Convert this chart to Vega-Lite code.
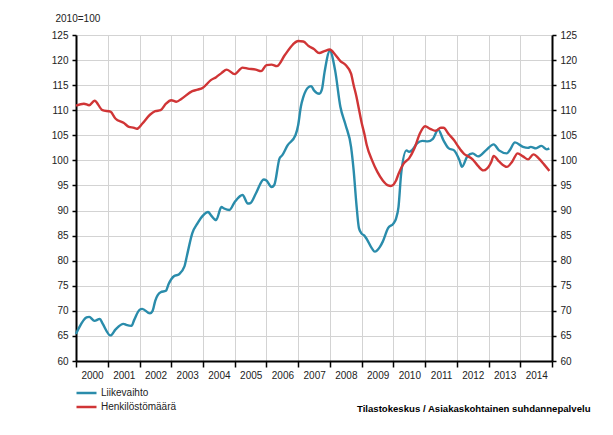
{
  "$schema": "https://vega.github.io/schema/vega-lite/v6.json",
  "width": 476,
  "height": 326,
  "autosize": "none",
  "padding": {"left": 76, "top": 35, "right": 61, "bottom": 74},
  "background": "white",
  "config": {
    "font": "Liberation Sans",
    "view": {"stroke": null},
    "axis": {"labelFontSize": 10, "labelColor": "#222222", "domainColor": "#000000", "domainWidth": 2, "tickColor": "#000000", "tickWidth": 1.5, "gridColor": "#d3d3d3", "gridWidth": 1}
  },
  "data": {
    "values": [
      {"date": "2000-01-01", "series": "Liikevaihto", "value": 65.4},
      {"date": "2000-02-01", "series": "Liikevaihto", "value": 66.5},
      {"date": "2000-05-01", "series": "Liikevaihto", "value": 68.7},
      {"date": "2000-06-01", "series": "Liikevaihto", "value": 68.8},
      {"date": "2000-08-01", "series": "Liikevaihto", "value": 68.0},
      {"date": "2000-10-01", "series": "Liikevaihto", "value": 68.4},
      {"date": "2000-11-01", "series": "Liikevaihto", "value": 67.5},
      {"date": "2001-02-01", "series": "Liikevaihto", "value": 65.1},
      {"date": "2001-04-01", "series": "Liikevaihto", "value": 66.3},
      {"date": "2001-07-01", "series": "Liikevaihto", "value": 67.4},
      {"date": "2001-08-01", "series": "Liikevaihto", "value": 67.2},
      {"date": "2001-10-01", "series": "Liikevaihto", "value": 67.0},
      {"date": "2001-11-01", "series": "Liikevaihto", "value": 68.2},
      {"date": "2002-01-01", "series": "Liikevaihto", "value": 70.2},
      {"date": "2002-02-01", "series": "Liikevaihto", "value": 70.4},
      {"date": "2002-05-01", "series": "Liikevaihto", "value": 69.5},
      {"date": "2002-06-01", "series": "Liikevaihto", "value": 70.0},
      {"date": "2002-07-01", "series": "Liikevaihto", "value": 72.0},
      {"date": "2002-09-01", "series": "Liikevaihto", "value": 73.7},
      {"date": "2002-11-01", "series": "Liikevaihto", "value": 74.0},
      {"date": "2002-12-01", "series": "Liikevaihto", "value": 75.3},
      {"date": "2003-02-01", "series": "Liikevaihto", "value": 76.9},
      {"date": "2003-04-01", "series": "Liikevaihto", "value": 77.3},
      {"date": "2003-06-01", "series": "Liikevaihto", "value": 78.8},
      {"date": "2003-07-01", "series": "Liikevaihto", "value": 81.0},
      {"date": "2003-09-01", "series": "Liikevaihto", "value": 85.5},
      {"date": "2003-11-01", "series": "Liikevaihto", "value": 87.5},
      {"date": "2004-01-01", "series": "Liikevaihto", "value": 89.0},
      {"date": "2004-03-01", "series": "Liikevaihto", "value": 89.7},
      {"date": "2004-04-01", "series": "Liikevaihto", "value": 89.1},
      {"date": "2004-06-01", "series": "Liikevaihto", "value": 88.1},
      {"date": "2004-08-01", "series": "Liikevaihto", "value": 90.7},
      {"date": "2004-09-01", "series": "Liikevaihto", "value": 90.4},
      {"date": "2004-11-01", "series": "Liikevaihto", "value": 90.1},
      {"date": "2005-01-01", "series": "Liikevaihto", "value": 91.7},
      {"date": "2005-04-01", "series": "Liikevaihto", "value": 93.1},
      {"date": "2005-06-01", "series": "Liikevaihto", "value": 91.4},
      {"date": "2005-07-01", "series": "Liikevaihto", "value": 91.5},
      {"date": "2005-09-01", "series": "Liikevaihto", "value": 93.4},
      {"date": "2005-12-01", "series": "Liikevaihto", "value": 96.2},
      {"date": "2006-01-01", "series": "Liikevaihto", "value": 96.0},
      {"date": "2006-03-01", "series": "Liikevaihto", "value": 94.7},
      {"date": "2006-04-01", "series": "Liikevaihto", "value": 95.1},
      {"date": "2006-06-01", "series": "Liikevaihto", "value": 100.4},
      {"date": "2006-07-01", "series": "Liikevaihto", "value": 101.0},
      {"date": "2006-09-01", "series": "Liikevaihto", "value": 103.0},
      {"date": "2006-12-01", "series": "Liikevaihto", "value": 105.0},
      {"date": "2007-01-01", "series": "Liikevaihto", "value": 107.0},
      {"date": "2007-02-01", "series": "Liikevaihto", "value": 110.7},
      {"date": "2007-03-01", "series": "Liikevaihto", "value": 112.6},
      {"date": "2007-05-01", "series": "Liikevaihto", "value": 114.6},
      {"date": "2007-06-01", "series": "Liikevaihto", "value": 114.8},
      {"date": "2007-07-01", "series": "Liikevaihto", "value": 114.0},
      {"date": "2007-09-01", "series": "Liikevaihto", "value": 113.3},
      {"date": "2007-10-01", "series": "Liikevaihto", "value": 114.1},
      {"date": "2007-11-01", "series": "Liikevaihto", "value": 117.6},
      {"date": "2008-01-01", "series": "Liikevaihto", "value": 121.8},
      {"date": "2008-03-01", "series": "Liikevaihto", "value": 118.0},
      {"date": "2008-05-01", "series": "Liikevaihto", "value": 110.7},
      {"date": "2008-07-01", "series": "Liikevaihto", "value": 107.0},
      {"date": "2008-09-01", "series": "Liikevaihto", "value": 102.7},
      {"date": "2008-10-01", "series": "Liikevaihto", "value": 98.0},
      {"date": "2008-11-01", "series": "Liikevaihto", "value": 91.4},
      {"date": "2008-12-01", "series": "Liikevaihto", "value": 86.5},
      {"date": "2009-01-01", "series": "Liikevaihto", "value": 85.4},
      {"date": "2009-02-01", "series": "Liikevaihto", "value": 85.0},
      {"date": "2009-03-01", "series": "Liikevaihto", "value": 84.3},
      {"date": "2009-05-01", "series": "Liikevaihto", "value": 82.4},
      {"date": "2009-06-01", "series": "Liikevaihto", "value": 81.8},
      {"date": "2009-08-01", "series": "Liikevaihto", "value": 82.8},
      {"date": "2009-09-01", "series": "Liikevaihto", "value": 83.8},
      {"date": "2009-11-01", "series": "Liikevaihto", "value": 86.5},
      {"date": "2010-01-01", "series": "Liikevaihto", "value": 87.4},
      {"date": "2010-02-01", "series": "Liikevaihto", "value": 88.4},
      {"date": "2010-03-01", "series": "Liikevaihto", "value": 90.7},
      {"date": "2010-04-01", "series": "Liikevaihto", "value": 97.4},
      {"date": "2010-06-01", "series": "Liikevaihto", "value": 102.0},
      {"date": "2010-07-01", "series": "Liikevaihto", "value": 101.7},
      {"date": "2010-08-01", "series": "Liikevaihto", "value": 102.0},
      {"date": "2010-10-01", "series": "Liikevaihto", "value": 103.4},
      {"date": "2010-12-01", "series": "Liikevaihto", "value": 103.9},
      {"date": "2011-02-01", "series": "Liikevaihto", "value": 103.8},
      {"date": "2011-04-01", "series": "Liikevaihto", "value": 104.3},
      {"date": "2011-06-01", "series": "Liikevaihto", "value": 106.1},
      {"date": "2011-08-01", "series": "Liikevaihto", "value": 104.0},
      {"date": "2011-10-01", "series": "Liikevaihto", "value": 102.4},
      {"date": "2011-12-01", "series": "Liikevaihto", "value": 102.0},
      {"date": "2012-02-01", "series": "Liikevaihto", "value": 100.0},
      {"date": "2012-03-01", "series": "Liikevaihto", "value": 98.7},
      {"date": "2012-05-01", "series": "Liikevaihto", "value": 100.8},
      {"date": "2012-07-01", "series": "Liikevaihto", "value": 101.4},
      {"date": "2012-09-01", "series": "Liikevaihto", "value": 100.8},
      {"date": "2012-12-01", "series": "Liikevaihto", "value": 102.0},
      {"date": "2013-03-01", "series": "Liikevaihto", "value": 103.2},
      {"date": "2013-05-01", "series": "Liikevaihto", "value": 102.0},
      {"date": "2013-08-01", "series": "Liikevaihto", "value": 101.4},
      {"date": "2013-09-01", "series": "Liikevaihto", "value": 102.0},
      {"date": "2013-11-01", "series": "Liikevaihto", "value": 103.6},
      {"date": "2014-02-01", "series": "Liikevaihto", "value": 102.7},
      {"date": "2014-04-01", "series": "Liikevaihto", "value": 102.5},
      {"date": "2014-05-01", "series": "Liikevaihto", "value": 102.7},
      {"date": "2014-07-01", "series": "Liikevaihto", "value": 102.4},
      {"date": "2014-09-01", "series": "Liikevaihto", "value": 102.9},
      {"date": "2014-11-01", "series": "Liikevaihto", "value": 102.2},
      {"date": "2014-12-01", "series": "Liikevaihto", "value": 102.4},
      {"date": "2000-01-01", "series": "Henkilöstömäärä", "value": 110.9},
      {"date": "2000-04-01", "series": "Henkilöstömäärä", "value": 111.3},
      {"date": "2000-06-01", "series": "Henkilöstömäärä", "value": 111.0},
      {"date": "2000-08-01", "series": "Henkilöstömäärä", "value": 111.9},
      {"date": "2000-11-01", "series": "Henkilöstömäärä", "value": 110.0},
      {"date": "2001-02-01", "series": "Henkilöstömäärä", "value": 109.7},
      {"date": "2001-04-01", "series": "Henkilöstömäärä", "value": 108.3},
      {"date": "2001-07-01", "series": "Henkilöstömäärä", "value": 107.5},
      {"date": "2001-09-01", "series": "Henkilöstömäärä", "value": 106.7},
      {"date": "2001-11-01", "series": "Henkilöstömäärä", "value": 106.5},
      {"date": "2001-12-01", "series": "Henkilöstömäärä", "value": 106.3},
      {"date": "2002-02-01", "series": "Henkilöstömäärä", "value": 107.3},
      {"date": "2002-05-01", "series": "Henkilöstömäärä", "value": 109.1},
      {"date": "2002-07-01", "series": "Henkilöstömäärä", "value": 109.8},
      {"date": "2002-09-01", "series": "Henkilöstömäärä", "value": 110.0},
      {"date": "2002-11-01", "series": "Henkilöstömäärä", "value": 111.3},
      {"date": "2003-01-01", "series": "Henkilöstömäärä", "value": 112.0},
      {"date": "2003-03-01", "series": "Henkilöstömäärä", "value": 111.7},
      {"date": "2003-05-01", "series": "Henkilöstömäärä", "value": 112.3},
      {"date": "2003-09-01", "series": "Henkilöstömäärä", "value": 113.8},
      {"date": "2003-11-01", "series": "Henkilöstömäärä", "value": 114.1},
      {"date": "2004-01-01", "series": "Henkilöstömäärä", "value": 114.5},
      {"date": "2004-04-01", "series": "Henkilöstömäärä", "value": 116.0},
      {"date": "2004-06-01", "series": "Henkilöstömäärä", "value": 116.6},
      {"date": "2004-08-01", "series": "Henkilöstömäärä", "value": 117.4},
      {"date": "2004-10-01", "series": "Henkilöstömäärä", "value": 118.1},
      {"date": "2005-01-01", "series": "Henkilöstömäärä", "value": 117.2},
      {"date": "2005-04-01", "series": "Henkilöstömäärä", "value": 118.5},
      {"date": "2005-06-01", "series": "Henkilöstömäärä", "value": 118.3},
      {"date": "2005-09-01", "series": "Henkilöstömäärä", "value": 118.1},
      {"date": "2005-11-01", "series": "Henkilöstömäärä", "value": 117.8},
      {"date": "2006-01-01", "series": "Henkilöstömäärä", "value": 119.0},
      {"date": "2006-03-01", "series": "Henkilöstömäärä", "value": 119.1},
      {"date": "2006-05-01", "series": "Henkilöstömäärä", "value": 118.8},
      {"date": "2006-08-01", "series": "Henkilöstömäärä", "value": 121.0},
      {"date": "2006-11-01", "series": "Henkilöstömäärä", "value": 123.1},
      {"date": "2007-01-01", "series": "Henkilöstömäärä", "value": 123.8},
      {"date": "2007-03-01", "series": "Henkilöstömäärä", "value": 123.7},
      {"date": "2007-05-01", "series": "Henkilöstömäärä", "value": 122.8},
      {"date": "2007-07-01", "series": "Henkilöstömäärä", "value": 122.2},
      {"date": "2007-09-01", "series": "Henkilöstömäärä", "value": 121.4},
      {"date": "2007-11-01", "series": "Henkilöstömäärä", "value": 121.8},
      {"date": "2008-01-01", "series": "Henkilöstömäärä", "value": 122.1},
      {"date": "2008-03-01", "series": "Henkilöstömäärä", "value": 121.1},
      {"date": "2008-05-01", "series": "Henkilöstömäärä", "value": 119.8},
      {"date": "2008-07-01", "series": "Henkilöstömäärä", "value": 119.0},
      {"date": "2008-09-01", "series": "Henkilöstömäärä", "value": 117.3},
      {"date": "2008-10-01", "series": "Henkilöstömäärä", "value": 115.0},
      {"date": "2008-11-01", "series": "Henkilöstömäärä", "value": 112.8},
      {"date": "2008-12-01", "series": "Henkilöstömäärä", "value": 110.2},
      {"date": "2009-01-01", "series": "Henkilöstömäärä", "value": 107.5},
      {"date": "2009-02-01", "series": "Henkilöstömäärä", "value": 105.3},
      {"date": "2009-03-01", "series": "Henkilöstömäärä", "value": 103.0},
      {"date": "2009-05-01", "series": "Henkilöstömäärä", "value": 100.0},
      {"date": "2009-07-01", "series": "Henkilöstömäärä", "value": 97.7},
      {"date": "2009-09-01", "series": "Henkilöstömäärä", "value": 96.0},
      {"date": "2009-11-01", "series": "Henkilöstömäärä", "value": 95.0},
      {"date": "2009-12-01", "series": "Henkilöstömäärä", "value": 94.9},
      {"date": "2010-02-01", "series": "Henkilöstömäärä", "value": 96.0},
      {"date": "2010-03-01", "series": "Henkilöstömäärä", "value": 97.3},
      {"date": "2010-05-01", "series": "Henkilöstömäärä", "value": 99.4},
      {"date": "2010-07-01", "series": "Henkilöstömäärä", "value": 100.4},
      {"date": "2010-09-01", "series": "Henkilöstömäärä", "value": 102.4},
      {"date": "2010-11-01", "series": "Henkilöstömäärä", "value": 105.3},
      {"date": "2011-01-01", "series": "Henkilöstömäärä", "value": 106.8},
      {"date": "2011-03-01", "series": "Henkilöstömäärä", "value": 106.3},
      {"date": "2011-05-01", "series": "Henkilöstömäärä", "value": 105.9},
      {"date": "2011-07-01", "series": "Henkilöstömäärä", "value": 106.5},
      {"date": "2011-08-01", "series": "Henkilöstömäärä", "value": 106.5},
      {"date": "2011-10-01", "series": "Henkilöstömäärä", "value": 105.2},
      {"date": "2011-12-01", "series": "Henkilöstömäärä", "value": 104.0},
      {"date": "2012-02-01", "series": "Henkilöstömäärä", "value": 102.4},
      {"date": "2012-04-01", "series": "Henkilöstömäärä", "value": 101.2},
      {"date": "2012-05-01", "series": "Henkilöstömäärä", "value": 100.9},
      {"date": "2012-07-01", "series": "Henkilöstömäärä", "value": 100.2},
      {"date": "2012-09-01", "series": "Henkilöstömäärä", "value": 98.9},
      {"date": "2012-11-01", "series": "Henkilöstömäärä", "value": 98.0},
      {"date": "2013-02-01", "series": "Henkilöstömäärä", "value": 99.7},
      {"date": "2013-03-01", "series": "Henkilöstömäärä", "value": 100.9},
      {"date": "2013-05-01", "series": "Henkilöstömäärä", "value": 99.8},
      {"date": "2013-08-01", "series": "Henkilöstömäärä", "value": 98.7},
      {"date": "2013-10-01", "series": "Henkilöstömäärä", "value": 99.8},
      {"date": "2013-12-01", "series": "Henkilöstömäärä", "value": 101.4},
      {"date": "2014-02-01", "series": "Henkilöstömäärä", "value": 100.8},
      {"date": "2014-04-01", "series": "Henkilöstömäärä", "value": 100.2},
      {"date": "2014-06-01", "series": "Henkilöstömäärä", "value": 101.2},
      {"date": "2014-08-01", "series": "Henkilöstömäärä", "value": 100.4},
      {"date": "2014-10-01", "series": "Henkilöstömäärä", "value": 99.2},
      {"date": "2014-12-01", "series": "Henkilöstömäärä", "value": 97.9}
    ]
  },
  "encoding": {
    "x": {
      "field": "date",
      "type": "temporal",
      "scale": {
        "type": "utc",
        "domain": [
          {"year": 2000, "month": 1, "date": 1, "utc": true},
          {"year": 2015, "month": 1, "date": 1, "utc": true}
        ]
      },
      "axis": {
        "orient": "bottom",
        "values": [
          {"year": 2000, "month": 1, "date": 1, "utc": true},
          {"year": 2001, "month": 1, "date": 1, "utc": true},
          {"year": 2002, "month": 1, "date": 1, "utc": true},
          {"year": 2003, "month": 1, "date": 1, "utc": true},
          {"year": 2004, "month": 1, "date": 1, "utc": true},
          {"year": 2005, "month": 1, "date": 1, "utc": true},
          {"year": 2006, "month": 1, "date": 1, "utc": true},
          {"year": 2007, "month": 1, "date": 1, "utc": true},
          {"year": 2008, "month": 1, "date": 1, "utc": true},
          {"year": 2009, "month": 1, "date": 1, "utc": true},
          {"year": 2010, "month": 1, "date": 1, "utc": true},
          {"year": 2011, "month": 1, "date": 1, "utc": true},
          {"year": 2012, "month": 1, "date": 1, "utc": true},
          {"year": 2013, "month": 1, "date": 1, "utc": true},
          {"year": 2014, "month": 1, "date": 1, "utc": true},
          {"year": 2015, "month": 1, "date": 1, "utc": true}
        ],
        "labelExpr": "utcFormat(datum.value, '%Y') == '2015' ? '' : utcFormat(datum.value, '%Y')",
        "labelOffset": 16,
        "labelFlush": false,
        "labelOverlap": false,
        "labelPadding": 3,
        "tickSize": 6,
        "grid": true,
        "title": "Tilastokeskus / Asiakaskohtainen suhdannepalvelu",
        "titleX": 514,
        "titleY": 50,
        "titleAlign": "right",
        "titleAnchor": null,
        "titleBaseline": "alphabetic",
        "titleFontSize": 9.6,
        "titleFontWeight": "bold",
        "titleColor": "#000000"
      }
    }
  },
  "layer": [
    {
      "mark": {"type": "line", "strokeWidth": 2.4, "interpolate": "monotone"},
      "encoding": {
        "y": {
          "field": "value",
          "type": "quantitative",
          "scale": {"domain": [60, 125], "nice": false, "zero": false},
          "axis": {
            "orient": "left",
            "values": [60, 65, 70, 75, 80, 85, 90, 95, 100, 105, 110, 115, 120, 125],
            "grid": true,
            "tickSize": 4,
            "labelPadding": 4,
            "title": "2010=100",
            "titleAngle": 0,
            "titleX": -21,
            "titleY": -17,
            "titleAlign": "left",
            "titleBaseline": "middle",
            "titleFontSize": 10,
            "titleFontWeight": "normal",
            "titleColor": "#222222"
          }
        },
        "color": {
          "field": "series",
          "type": "nominal",
          "scale": {"domain": ["Liikevaihto", "Henkilöstömäärä"], "range": ["#2a8cab", "#d03536"]},
          "legend": {
            "orient": "none",
            "legendX": -1,
            "legendY": 351,
            "title": null,
            "padding": 0,
            "symbolType": "stroke",
            "symbolSize": 400,
            "symbolStrokeWidth": 2.5,
            "clipHeight": 14,
            "rowPadding": 0,
            "labelOffset": 3,
            "labelFontSize": 10,
            "labelColor": "#222222"
          }
        }
      }
    },
    {
      "mark": {"type": "line", "strokeOpacity": 0},
      "encoding": {
        "y": {
          "field": "value",
          "type": "quantitative",
          "axis": {
            "orient": "right",
            "values": [60, 65, 70, 75, 80, 85, 90, 95, 100, 105, 110, 115, 120, 125],
            "grid": false,
            "tickSize": 4,
            "labelPadding": 4,
            "title": null
          }
        },
        "detail": {"field": "series", "type": "nominal"}
      }
    }
  ],
  "resolve": {"axis": {"y": "independent"}}
}
